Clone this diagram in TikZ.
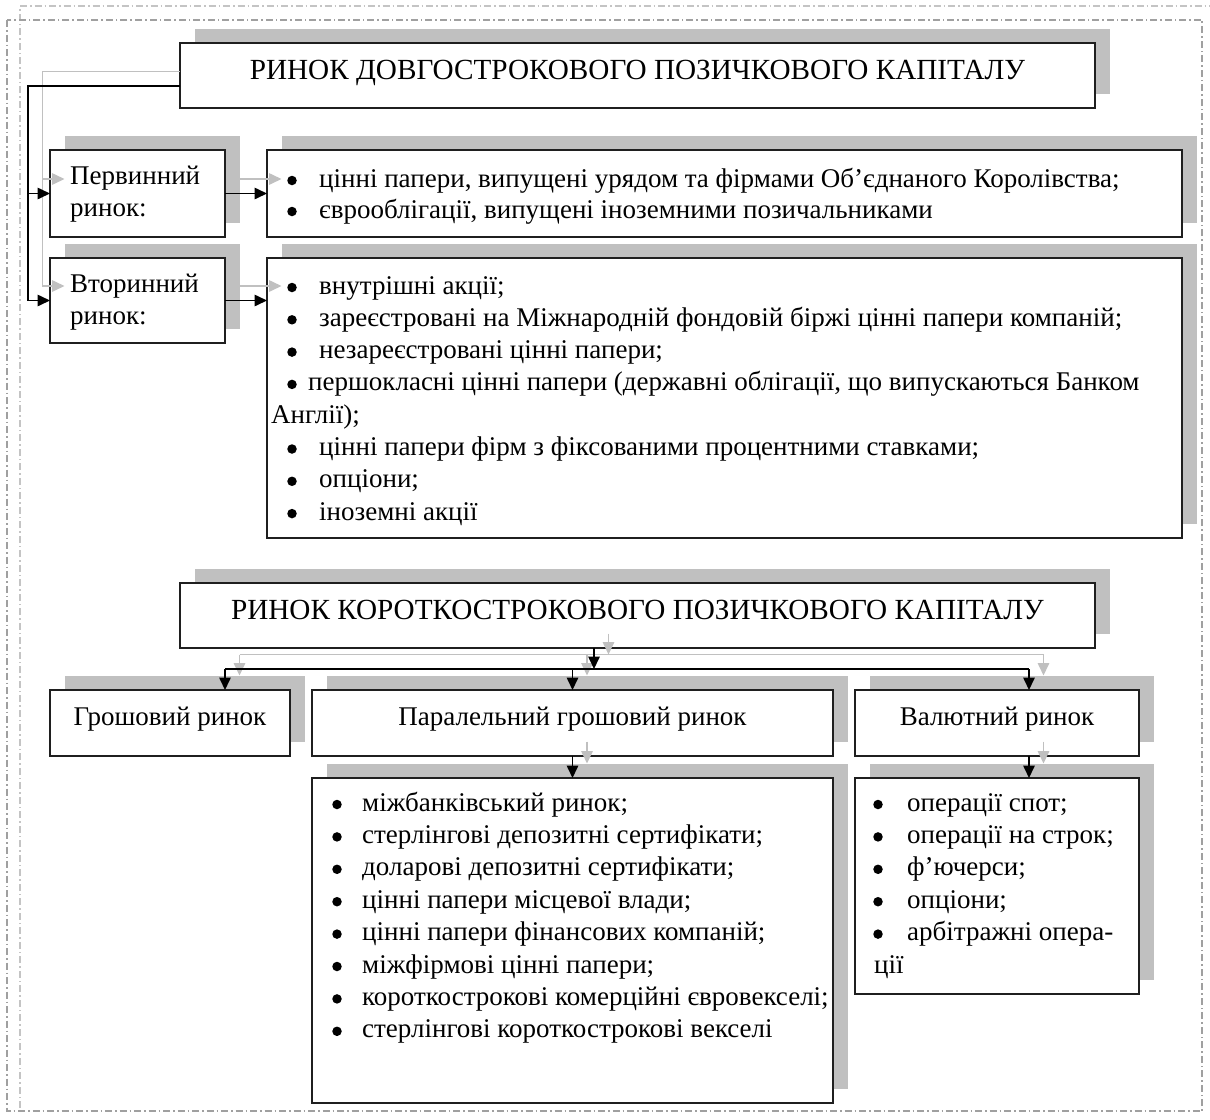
\documentclass[tikz,border=0pt]{standalone}
\usepackage{fontspec}
\setmainfont{Liberation Serif}
\usetikzlibrary{arrows.meta,calc}
\pgfdeclarelayer{bg}
\pgfsetlayers{bg,main}
\definecolor{shade}{HTML}{C0C0C0}
\definecolor{frameA}{HTML}{A0A0A0}
\definecolor{frameB}{HTML}{C4C4C4}
\tikzset{
 boxframe/.style={draw=black!88, line width=1.5pt, fill=white, rectangle, inner sep=0pt, outer sep=0pt, anchor=north west},
 shbox/.style={fill=shade, draw=none, rectangle, inner sep=0pt, outer sep=0pt, anchor=north west},
 txt/.style={inner sep=0pt, anchor=base west, font=\fontsize{27pt}{32.4pt}\selectfont},
 ctxt/.style={inner sep=0pt, anchor=base, font=\fontsize{27pt}{32.4pt}\selectfont},
 ttl/.style={inner sep=0pt, anchor=base, font=\fontsize{29.2pt}{35pt}\selectfont},
 dot/.style={circle, fill=black, draw=none, inner sep=0pt, minimum size=9.5pt},
 conn/.style={draw=black, line width=1.6pt, -{Triangle[length=12.5pt,width=11.5pt]}},
 sconn/.style={draw=shade, line width=1.6pt, -{Triangle[length=12.5pt,width=11.5pt]}},
 busline/.style={draw=black, line width=1.6pt},
 sbusline/.style={draw=shade, line width=1.6pt},
 frm/.style={line width=1.2pt, dash pattern=on 7pt off 3pt on 1.5pt off 3pt},
}
\newcommand\mkbox[5]{%
 \pgfmathsetmacro\bw{#4-#2}\pgfmathsetmacro\bh{#5-#3}%
 \begin{pgfonlayer}{bg}
 \node[shbox, minimum width=\bw pt, minimum height=\bh pt] (#1s) at ({#2+14.5},{#3-14.5}) {};
 \end{pgfonlayer}
 \node[boxframe, minimum width=\bw pt, minimum height=\bh pt] (#1) at (#2,#3) {};
}
\newcommand\bitem[5]{%
 \node[dot] (#1b) at ({#2+5},{#4-6.5}) {};
 \node[txt] (#1) at (#3,#4) {#5};
}
\begin{document}
\begin{tikzpicture}[x=1pt,y=-1pt]
\useasboundingbox (0,0) rectangle (1210,1119);
\begin{pgfonlayer}{bg}
\draw[frm, draw=frameB] (20,1108) -- (20,6) -- (1216,6);
\draw[frm, draw=frameA] (7,20) rectangle (1202,1111);
\end{pgfonlayer}

% boxes
\mkbox{t1}{180}{43}{1095}{108}
\mkbox{prim}{50}{150}{225}{237}
\mkbox{sec}{50}{258}{225}{343}
\mkbox{ra}{267}{150}{1182}{237}
\mkbox{rb}{267}{258}{1182}{538}
\mkbox{t2}{180}{583}{1095}{648}
\mkbox{gr}{50}{690}{290}{756}
\mkbox{par}{312}{690}{833}{756}
\mkbox{val}{855}{690}{1139}{756}
\mkbox{parl}{312}{778}{833}{1103}
\mkbox{vall}{855}{778}{1139}{994}

% titles
\node[ttl] (t1t) at (637.5,79) {РИНОК ДОВГОСТРОКОВОГО ПОЗИЧКОВОГО КАПІТАЛУ};
\node[ttl] (t2t) at (637.5,619) {РИНОК КОРОТКОСТРОКОВОГО ПОЗИЧКОВОГО КАПІТАЛУ};

% left labels
\node[txt] (primt1) at (70,184) {Первинний};
\node[txt] (primt2) at (70,216) {ринок:};
\node[txt] (sect1) at (70,292) {Вторинний};
\node[txt] (sect2) at (70,324) {ринок:};

% right lists (top)
\bitem{ra1}{287}{319}{187}{цінні папери, випущені урядом та фірмами Об’єднаного Королівства;}
\bitem{ra2}{287}{319}{218}{єврооблігації, випущені іноземними позичальниками}

\bitem{rb1}{287}{319}{294}{внутрішні акції;}
\bitem{rb2}{287}{319}{326.3}{зареєстровані на Міжнародній фондовій біржі цінні папери компаній;}
\bitem{rb3}{287}{319}{358.6}{незареєстровані цінні папери;}
\bitem{rb4}{287}{308}{390.9}{першокласні цінні папери (державні облігації, що випускаються Банком}
\node[txt] (rb5) at (271,423.2) {Англії);};
\bitem{rb6}{287}{319}{455.5}{цінні папери фірм з фіксованими процентними ставками;}
\bitem{rb7}{287}{319}{487.8}{опціони;}
\bitem{rb8}{287}{319}{520.1}{іноземні акції}

% middle labels
\node[ctxt] (grt) at (170,725) {Грошовий ринок};
\node[ctxt] (part) at (572.5,725) {Паралельний грошовий ринок};
\node[ctxt] (valt) at (997,725) {Валютний ринок};

% bottom lists
\bitem{pl1}{332}{362}{811}{міжбанківський ринок;}
\bitem{pl2}{332}{362}{843.4}{стерлінгові депозитні сертифікати;}
\bitem{pl3}{332}{362}{875.8}{доларові депозитні сертифікати;}
\bitem{pl4}{332}{362}{908.2}{цінні папери місцевої влади;}
\bitem{pl5}{332}{362}{940.6}{цінні папери фінансових компаній;}
\bitem{pl6}{332}{362}{973}{міжфірмові цінні папери;}
\bitem{pl7}{332}{362}{1005.4}{короткострокові комерційні євровекселі;}
\bitem{pl8}{332}{362}{1037.8}{стерлінгові короткострокові векселі}

\bitem{vl1}{873}{907}{811}{операції спот;}
\bitem{vl2}{873}{907}{843.4}{операції на строк;}
\bitem{vl3}{873}{907}{875.8}{ф’ючерси;}
\bitem{vl4}{873}{907}{908.2}{опціони;}
\bitem{vl5}{873}{907}{940.6}{арбітражні опера-}
\node[txt] (vl6) at (874,973) {ції};

% connectors: coordinates of buses
\coordinate (busA) at (28,0);
\coordinate (busAs) at (42.5,0);
\coordinate (busB) at (0,669);
\coordinate (busBs) at (0,654.5);

% shadow connectors (grey)
\draw[sconn] ([yshift=-10.5pt]t1s.west -| t1.west) -| (busAs |- secs.west) -- (secs.west);
\draw[sconn] (busAs |- prims.west) -- (prims.west);
\draw[sconn] (prims.east) -- (prims.east -| ras.west);
\draw[sconn] (secs.east) -- (secs.east -| rbs.west);
\draw[sconn] ([xshift=-43.5pt]t2s.south) -- ([xshift=-43.5pt]t2s.south |- busBs);
\draw[sbusline] ([xshift=55pt]grs.north |- busBs) -- ([xshift=32pt]vals.north |- busBs);
\draw[sconn] ([xshift=55pt]grs.north |- busBs) -- ([xshift=55pt]grs.north);
\draw[sconn] (pars.north |- busBs) -- (pars.north);
\draw[sconn] ([xshift=32pt]vals.north |- busBs) -- ([xshift=32pt]vals.north);
\draw[sconn] (pars.south) -- (parls.north);
\draw[sconn] ([xshift=32pt]vals.south) -- ([xshift=32pt]valls.north);

% black connectors
\draw[conn] ([yshift=-10.5pt]t1.west) -| (busA |- sec.west) -- (sec.west);
\draw[conn] (busA |- prim.west) -- (prim.west);
\draw[conn] (prim.east) -- (prim.east -| ra.west);
\draw[conn] (sec.east) -- (sec.east -| rb.west);
\draw[conn] ([xshift=-43.5pt]t2.south) -- ([xshift=-43.5pt]t2.south |- busB);
\draw[busline] ([xshift=55pt]gr.north |- busB) -- ([xshift=32pt]val.north |- busB);
\draw[conn] ([xshift=55pt]gr.north |- busB) -- ([xshift=55pt]gr.north);
\draw[conn] (par.north |- busB) -- (par.north);
\draw[conn] ([xshift=32pt]val.north |- busB) -- ([xshift=32pt]val.north);
\draw[conn] (par.south) -- (parl.north);
\draw[conn] ([xshift=32pt]val.south) -- ([xshift=32pt]vall.north);
\end{tikzpicture}
\end{document}
